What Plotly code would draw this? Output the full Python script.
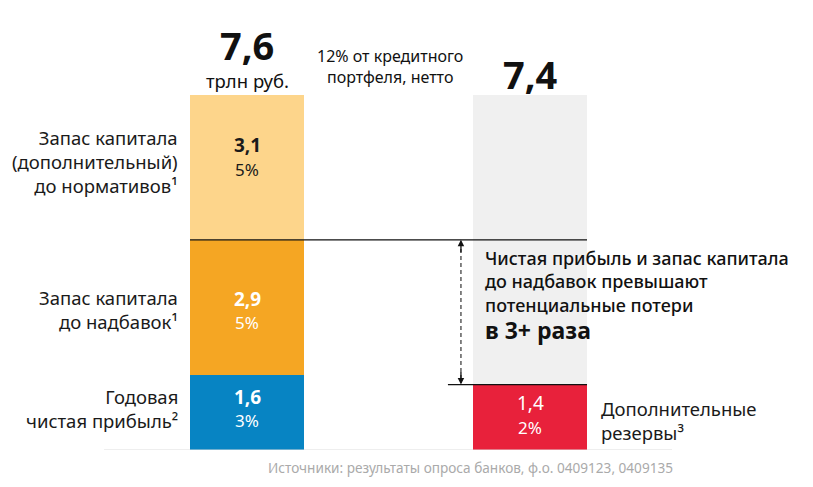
import plotly.graph_objects as go

# ---- data ----
left_labels = ["Годовая<br>чистая прибыль²",
               "Запас капитала<br>до надбавок¹",
               "Запас капитала<br>(дополнительный)<br>до нормативов¹"]
left_values = [1.6, 2.9, 3.1]
left_pct = ["3%", "5%", "5%"]
left_colors = ["#0784C3", "#F5A623", "#FDD58B"]
left_text_colors = ["white", "white", "#1a1a1a"]
left_total_label = "7,6"

right_values = [1.4]
right_pct = ["2%"]
right_label = "Дополнительные<br>резервы³"
right_total_label = "7,4"
right_color = "#E8213B"
bg_color = "#F0F0F0"

cats = [0, 1]
fmt = lambda v: f"{v:.1f}".replace(".", ",")

FONT = "Noto Sans"
LAB = 18.5
fig = go.Figure()

left_total = sum(left_values)
# grey background column on the right
fig.add_trace(go.Bar(x=[cats[1]], y=[left_total], base=[0], width=0.403,
                     marker=dict(color=bg_color, line=dict(width=0)),
                     hoverinfo="skip"))
base = 0
bases = []
for v, c in zip(left_values, left_colors):
    fig.add_trace(go.Bar(x=[cats[0]], y=[v], base=[base], width=0.403,
                         marker=dict(color=c, line=dict(width=0)),
                         hoverinfo="skip"))
    bases.append(base)
    base += v
fig.add_trace(go.Bar(x=[cats[1]], y=[right_values[0]], base=[0], width=0.403,
                     marker=dict(color=right_color, line=dict(width=0)),
                     hoverinfo="skip"))

ann = []
def A(**kw):
    kw.setdefault("showarrow", False)
    kw.setdefault("yanchor", "middle")
    ann.append(kw)

# value labels inside segments
shifts = [4, -3, 10]
for v, b, p, tc, s in zip(left_values, bases, left_pct, left_text_colors, shifts):
    A(x=cats[0], y=b + v / 2, xref="x", yref="y", yshift=s + 12,
      text=f"<b>{fmt(v)}</b>", font=dict(family=FONT, size=19, color=tc))
    A(x=cats[0], y=b + v / 2, xref="x", yref="y", yshift=s - 12,
      text=p, font=dict(family=FONT, size=17, color=tc))
A(x=cats[1], y=right_values[0] / 2, xref="x", yref="y", yshift=14,
  text=fmt(right_values[0]), font=dict(family=FONT, size=19, color="white"))
A(x=cats[1], y=right_values[0] / 2, xref="x", yref="y", yshift=-10,
  text=right_pct[0], font=dict(family=FONT, size=17, color="white"))

# category labels left
label_shifts = [4, -2, 6]
for lab, v, b, s in zip(left_labels, left_values, bases, label_shifts):
    A(x=-0.237, y=b + v / 2, xref="x", yref="y", yshift=s,
      xanchor="right", align="right", text=lab,
      font=dict(family=FONT, size=LAB, color="#1a1a1a"))
A(x=1.245, y=right_values[0] / 2, xref="x", yref="y", yshift=-3,
  xanchor="left", align="left", text=right_label,
  font=dict(family=FONT, size=LAB, color="#1a1a1a"))

def py(px):
    return (450 - px) / 355.0

# totals
A(x=cats[0], y=py(45), xref="x", yref="paper", text=f"<b>{left_total_label}</b>",
  font=dict(family=FONT, size=38, color="#111"))
A(x=cats[0], y=py(80), xref="x", yref="paper", text="трлн руб.",
  font=dict(family=FONT, size=18.5, color="#111"))
A(x=0.505, y=py(66), xref="x", yref="paper",
  text="12% от кредитного<br>портфеля, нетто", align="center",
  font=dict(family=FONT, size=16, color="#111"))
A(x=cats[1], y=py(74), xref="x", yref="paper", text=f"<b>{right_total_label}</b>",
  font=dict(family=FONT, size=38, color="#111"))

# comment text
A(x=0.834, y=py(281), xref="x", yref="paper", xanchor="left", align="left",
  text="Чистая прибыль и запас капитала<br>до надбавок превышают<br>потенциальные потери",
  font=dict(family=FONT, size=18, color="#111", weight=500))
A(x=0.834, y=py(330), xref="x", yref="paper", xanchor="left", align="left",
  text="<b>в 3+ раза</b>", font=dict(family=FONT, size=23, color="#111"))

# source
A(x=0.79, y=py(467), xref="x", yref="paper",
  text="Источники: результаты опроса банков, ф.о. 0409123, 0409135",
  font=dict(family=FONT, size=13.6, color="#AAAAAA"))

# arrow heads
top_level = left_values[0] + left_values[1]
low_level = right_values[0]
ax_x = 0.756
ann.append(dict(x=ax_x, y=top_level, xref="x", yref="y", ax=0, ay=14,
                showarrow=True, arrowhead=2, arrowsize=1, arrowwidth=1.3, arrowcolor="#111",
                standoff=0, text=""))
ann.append(dict(x=ax_x, y=low_level, xref="x", yref="y", ax=0, ay=-14,
                showarrow=True, arrowhead=2, arrowsize=1, arrowwidth=1.3, arrowcolor="#111",
                standoff=0, text=""))

shapes = [
    dict(type="line", xref="x", yref="y", x0=-0.2015, x1=1.2015, y0=top_level, y1=top_level,
         line=dict(color="#111", width=1.2)),
    dict(type="line", xref="x", yref="y", x0=0.71, x1=1.2015, y0=low_level, y1=low_level,
         line=dict(color="#111", width=1.2)),
    dict(type="line", xref="x", yref="y", x0=ax_x, x1=ax_x, y0=low_level + 0.12, y1=top_level - 0.12,
         line=dict(color="#333", width=1.2, dash="4px,3px")),
    dict(type="line", xref="x", yref="y", x0=-0.505, x1=1.502, y0=0, y1=0,
         line=dict(color="#DDDDDD", width=1)),
]

# page body has an 8px margin: figure is 805x479 placed at (8, 8)
fig.update_layout(
    width=805, height=479,
    margin=dict(l=0, r=0, t=87, b=37),
    paper_bgcolor="white", plot_bgcolor="white",
    barmode="overlay", bargap=0, showlegend=False,
    xaxis=dict(range=[-0.8445, 2.0], visible=False, fixedrange=True),
    yaxis=dict(range=[0, left_total], visible=False, fixedrange=True),
    annotations=ann, shapes=shapes,
)
fig.write_html("out.html", config={"displayModeBar": False})
